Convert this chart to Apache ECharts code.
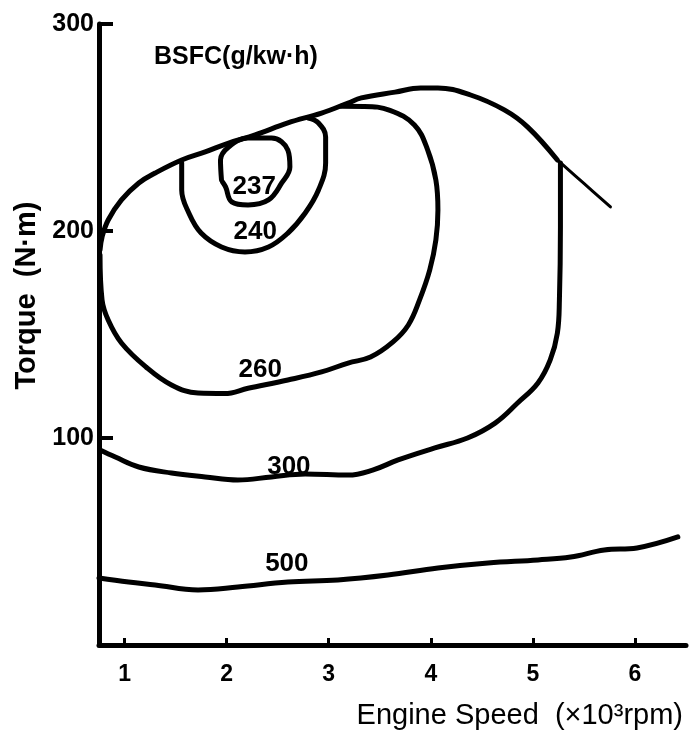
<!DOCTYPE html>
<html>
<head>
<meta charset="utf-8">
<title>BSFC map</title>
<script src="https://cdn.jsdelivr.net/npm/echarts@6/dist/echarts.min.js"></script>
<style>
  html, body { margin: 0; padding: 0; background: #fff; }
  #chart { width: 691px; height: 746px; }
</style>
</head>
<body>
<div id="chart"></div>
<script>
// engine speed in 10^3 rpm, torque in N·m
const speedTicks = [1, 2, 3, 4, 5, 6];

const fullLoad = [[0.76, 190.8], [0.78, 197.1], [0.84, 205.3], [0.97, 215.0], [1.14, 223.2], [1.30, 228.0],
  [1.56, 234.3], [1.79, 238.2], [2.02, 242.5], [2.28, 246.4], [2.60, 252.2], [2.93, 257.0], [3.19, 261.8],
  [3.32, 264.3], [3.65, 267.1], [3.90, 269.1], [4.07, 269.1], [4.39, 265.7], [4.72, 258.5], [4.95, 250.2],
  [5.24, 234.3]];
const fullLoadTail = [[5.24, 234.3], [5.50, 223.0], [5.76, 211.6]];

const bsfc237 = [[1.95, 224.6], [1.94, 234.3], [2.02, 240.6], [2.21, 244.9], [2.44, 244.9], [2.60, 239.1],
  [2.62, 230.9], [2.54, 223.2], [2.41, 215.0], [2.21, 212.6], [2.05, 214.1], [1.99, 221.3], [1.96, 223.7]];

const bsfc240 = [[1.56, 232.9], [1.56, 219.8], [1.63, 208.7], [1.75, 199.0], [1.95, 192.3], [2.18, 189.9],
  [2.41, 192.3], [2.60, 199.0], [2.77, 208.7], [2.90, 219.8], [2.97, 232.9], [2.97, 245.4], [2.90, 252.2],
  [2.80, 254.6]];

const bsfc260 = [[0.76, 188.4], [0.78, 166.7], [0.84, 157.0], [0.97, 145.9], [1.21, 134.3], [1.46, 125.6],
  [1.72, 121.7], [1.98, 121.5], [2.21, 124.0], [2.60, 128.0], [2.93, 131.9], [3.19, 136.2], [3.41, 139.1],
  [3.63, 146.4], [3.78, 154.6], [3.89, 166.7], [3.99, 181.2], [4.05, 195.7], [4.07, 210.1], [4.05, 224.6],
  [3.97, 239.1], [3.84, 251.2], [3.60, 258.3], [3.35, 260.2], [3.12, 260.3]];

const bsfc300 = [[0.76, 94.2], [0.91, 90.8], [1.14, 86.0], [1.46, 83.1], [1.79, 81.2], [2.11, 79.7],
  [2.44, 81.2], [2.77, 82.6], [3.19, 82.1], [3.43, 84.5], [3.68, 89.4], [4.04, 95.2], [4.36, 100.0],
  [4.63, 107.2], [4.85, 116.9], [5.05, 126.6], [5.17, 137.7], [5.24, 150.7], [5.26, 166.7], [5.27, 201.9],
  [5.27, 232.9]];

const bsfc500 = [[0.75, 32.4], [1.04, 30.4], [1.30, 29.0], [1.72, 26.6], [2.11, 28.0], [2.60, 30.4],
  [3.09, 31.4], [3.58, 33.8], [4.07, 37.2], [4.56, 39.6], [5.05, 41.1], [5.37, 42.5], [5.70, 45.9],
  [6.02, 46.9], [6.42, 52.2]];

const contourNames = ['237', '240', '260', '300', '500'];
const contourLabelPos = [[2.27, 221.5], [2.28, 199.5], [2.33, 133.0], [2.61, 86.0], [2.59, 39.0]];

const FONT = 'Liberation Sans, Arial, sans-serif';

function curve(name, data, width) {
  return {
    name: name,
    type: 'line',
    data: data,
    smooth: 0.4,
    showSymbol: false,
    silent: true,
    lineStyle: { color: '#000', width: width || 5, cap: 'round', join: 'round' }
  };
}

const chart = echarts.init(document.getElementById('chart'));
chart.setOption({
  backgroundColor: '#fff',
  animation: false,
  title: {
    text: 'BSFC(g/kw·h)',
    left: 149,
    top: 40,
    textStyle: { fontFamily: FONT, fontSize: 25, fontWeight: 'bold', color: '#000' }
  },
  grid: { left: 99, right: 5, top: 24, bottom: 101 },
  xAxis: {
    type: 'value',
    min: 0.75,
    max: 6.5,
    name: 'Engine Speed  (×10³rpm)',
    nameLocation: 'end',
    nameGap: -3,
    nameTextStyle: {
      fontFamily: FONT, fontSize: 29, color: '#000',
      align: 'right', verticalAlign: 'top', padding: [56, 0, 0, 0]
    },
    axisLine: { lineStyle: { color: '#000', width: 5 } },
    axisTick: { inside: true, length: 7, customValues: speedTicks, lineStyle: { color: '#000', width: 3 } },
    axisLabel: {
      customValues: speedTicks,
      margin: 18,
      fontFamily: FONT, fontSize: 23, fontWeight: 'bold', color: '#000'
    },
    splitLine: { show: false }
  },
  yAxis: {
    type: 'value',
    min: 0,
    max: 300,
    interval: 100,
    name: 'Torque  (N·m)',
    nameLocation: 'middle',
    nameRotate: 90,
    nameGap: 56,
    nameTextStyle: {
      fontFamily: FONT, fontSize: 29, fontWeight: 'bold', color: '#000',
      padding: [0, 0, 0, 78]
    },
    axisLine: { lineStyle: { color: '#000', width: 5 } },
    axisTick: { inside: true, length: 14, lineStyle: { color: '#000', width: 4 } },
    axisLabel: {
      showMinLabel: false,
      margin: 5,
      fontFamily: FONT, fontSize: 25, fontWeight: 'bold', color: '#000'
    },
    splitLine: { show: false }
  },
  series: [
    curve('full load', fullLoad, 5),
    curve('full load tail', fullLoadTail, 3),
    curve('237', bsfc237, 5),
    curve('240', bsfc240, 5),
    curve('260', bsfc260, 5),
    curve('300', bsfc300, 5),
    curve('500', bsfc500, 5),
    {
      name: 'labels',
      type: 'scatter',
      silent: true,
      symbolSize: 0,
      itemStyle: { color: '#000' },
      data: contourLabelPos.map((p, i) => ({ value: p, name: contourNames[i] })),
      label: {
        show: true,
        position: 'inside',
        formatter: '{b}',
        opacity: 1,
        textBorderWidth: 0,
        fontFamily: FONT, fontSize: 26, fontWeight: 'bold', color: '#000'
      }
    }
  ]
});
</script>
</body>
</html>
